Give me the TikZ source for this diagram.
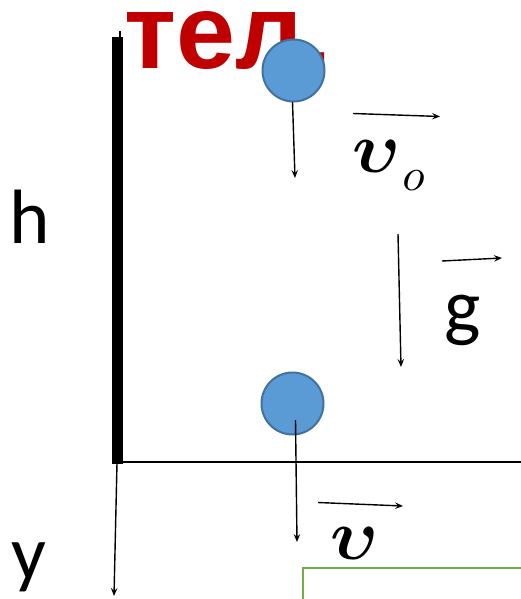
\documentclass[tikz,border=0pt]{standalone}
\usepackage{amsmath}
\usepackage{fontspec}
\setmainfont{Carlito}
\newfontfamily\titlefont{Liberation Sans}
\usetikzlibrary{arrows.meta}
\definecolor{titlered}{RGB}{192,0,0}
\definecolor{ballfill}{RGB}{91,155,213}
\definecolor{balledge}{RGB}{65,113,156}
\definecolor{boxgreen}{RGB}{112,173,71}
\tikzset{
  ball/.style={circle,draw=balledge,fill=ballfill,line width=2pt,minimum size=62pt,inner sep=0pt},
  vec/.style={line width=1.4pt,-{Stealth[length=8pt,width=6.5pt,inset=3pt]}},
  lbl/.style={inner sep=0pt,anchor=base west,font=\fontsize{77}{80}\selectfont},
  mlbl/.style={inner sep=0pt,anchor=base west},
}
\begin{document}
\begin{tikzpicture}[x=1pt,y=-1pt]
\useasboundingbox (0,0) rectangle (521,599);
% wall and ground
\coordinate (wtop) at (120,31);
\coordinate (wbot) at (120,40);
\draw[line width=1.4pt] (wtop) -- (wbot);
\coordinate (bartop) at (117.5,37);
\coordinate (barbot) at (117.5,464);
\draw[line width=11pt] (bartop) -- (barbot);
\coordinate (gl) at (122,462);
\coordinate (gr) at (521,462);
\draw[line width=1.8pt] (gl) -- (gr);
% y axis
\coordinate (ys) at (117,463);
\coordinate (ye) at (114,596);
\draw[vec] (ys) -- (ye);
% title
\node[inner sep=0pt,anchor=base west,text=titlered,font=\titlefont\bfseries\fontsize{106}{110}\selectfont] (title) at (124,69) {тел.};
% balls
\node[ball] (b1) at (293.5,70.5) {};
\node[ball] (b2) at (292.5,403.5) {};
% velocity arrows from balls
\coordinate (a1s) at (292.5,102);
\coordinate (a1e) at (295,178);
\draw[vec] (a1s) -- (a1e);
\coordinate (a2s) at (295.5,420);
\coordinate (a2e) at (297,542);
\draw[vec] (a2s) -- (a2e);
% g direction
\coordinate (gs) at (398,234);
\coordinate (ge) at (401,367);
\draw[vec] (gs) -- (ge);
% vector bars
\coordinate (v0s) at (353,113.5);
\coordinate (v0e) at (440,116.5);
\draw[vec] (v0s) -- (v0e);
\coordinate (vgs) at (442,261);
\coordinate (vge) at (502,258);
\draw[vec] (vgs) -- (vge);
\coordinate (vvs) at (318,502.5);
\coordinate (vve) at (403,506);
\draw[vec] (vvs) -- (vve);
% labels
\node[mlbl] (v0lbl) at (352,172) {\scalebox{7.2}{$\boldsymbol{\upsilon}$}\hspace{2pt}\raisebox{-18pt}{\scalebox{4.6}{$o$}}};
\node[mlbl] (vlbl) at (330,559) {\scalebox{7.2}{$\boldsymbol{\upsilon}$}};
\node[lbl] (glbl) at (444,332) {g};
\node[lbl] (hlbl) at (9,243) {h};
\node[lbl] (ylbl) at (11,579) {y};
% green box
\coordinate (gb1) at (303,599);
\coordinate (gb2) at (303,568);
\coordinate (gb3) at (521,568);
\draw[boxgreen,line width=2.2pt] (gb1) -- (gb2) -- (gb3);
\end{tikzpicture}
\end{document}
